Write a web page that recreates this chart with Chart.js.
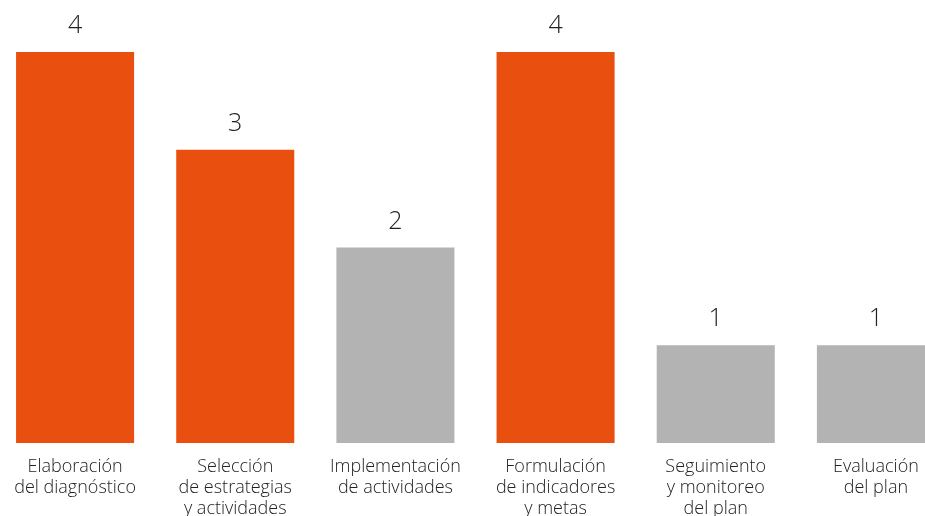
<!DOCTYPE html>
<html>
<head>
<meta charset="utf-8">
<script src="https://cdn.jsdelivr.net/npm/chart.js@4"></script>
<style>
  html, body { margin: 0; padding: 0; background: #fff; overflow: hidden; }
  #wrap { position: absolute; left: -5px; top: 0; width: 961px; height: 516px; }
</style>
</head>
<body>
<div id="wrap"><canvas id="etapas-chart"></canvas></div>
<script>
// datos
const categorias = [
	['Elaboración', 'del diagnóstico'],
	['Selección', 'de estrategias', 'y actividades'],
	['Implementación', 'de actividades'],
	['Formulación', 'de indicadores', 'y metas'],
	['Seguimiento', 'y monitoreo', 'del plan'],
	['Evaluación', 'del plan']
];
const valores = [4, 3, 2, 4, 1, 1];
const colores = ['#E9500F', '#E9500F', '#B3B3B3', '#E9500F', '#B3B3B3', '#B3B3B3'];

const fuente = '"Open Sans", sans-serif';

// etiqueta con el valor encima de cada barra
const valorEncima = {
	id: 'valorEncima',
	afterDatasetsDraw(chart) {
		const ctx = chart.ctx;
		const meta = chart.getDatasetMeta(0);
		ctx.save();
		ctx.font = '300 25px ' + fuente;
		ctx.fillStyle = '#222';
		ctx.textAlign = 'center';
		ctx.textBaseline = 'middle';
		meta.data.forEach(function (bar, i) {
			ctx.fillText(valores[i], bar.x, bar.y - 26);
		});
		ctx.restore();
	}
};

document.addEventListener('DOMContentLoaded', function () {
	const box = document.querySelector('#etapas-chart');
	new Chart(box, {
		type: 'bar',
		data: {
			labels: categorias,
			datasets: [{
				data: valores,
				backgroundColor: colores,
				barPercentage: 0.737,
				categoryPercentage: 1
			}]
		},
		options: {
			responsive: true,
			maintainAspectRatio: false,
			animation: false,
			layout: { padding: { top: 3, left: 0, right: 0, bottom: 0 } },
			plugins: {
				legend: { display: false },
				tooltip: { enabled: false }
			},
			scales: {
				x: {
					grid: { display: false, drawTicks: false },
					border: { display: false },
					ticks: {
						color: '#222',
						font: { family: fuente, size: 18, weight: 300, lineHeight: 1.17 },
						padding: 13,
						maxRotation: 0,
						autoSkip: false
					},
					afterFit: function (scale) { scale.height = 73; }
				},
				y: {
					display: false,
					min: 0,
					max: 4.5
				}
			}
		},
		plugins: [valorEncima]
	});
});
</script>
</body>
</html>
